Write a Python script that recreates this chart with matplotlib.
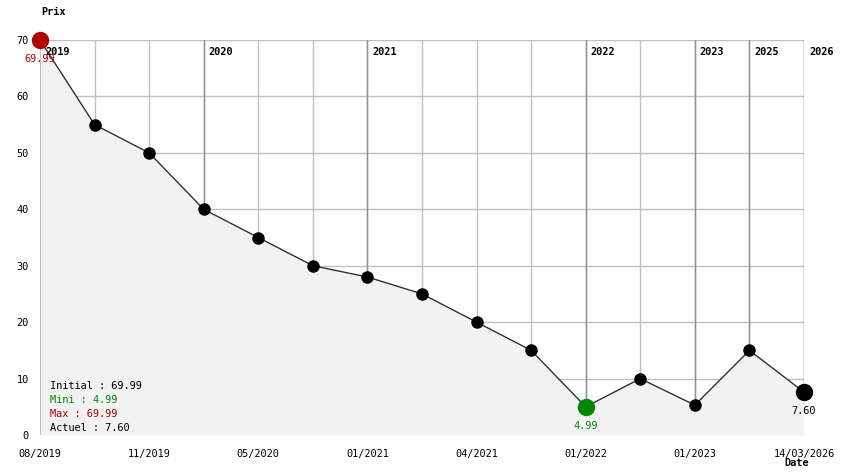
import matplotlib
matplotlib.use("Agg")
import matplotlib.pyplot as plt

prices = [69.99, 55, 50, 40, 35, 30, 28, 25, 20, 15, 4.99, 9.99, 5.3, 14.99, 7.60]
tick_pos = [0, 2, 4, 6, 8, 10, 12, 14]
tick_labels = ["08/2019", "11/2019", "05/2020", "01/2021", "04/2021",
               "01/2022", "01/2023", "14/03/2026"]
year_pos = [0, 3, 6, 10, 12, 13, 14]
year_labels = ["2019", "2020", "2021", "2022", "2023", "2025", "2026"]

font = "DejaVu Sans Mono"
fs = 7.4
red = "#b00000"
green = "#008800"

fig = plt.figure(figsize=(8.44, 4.74), dpi=100)
W, H = 844, 474
ax = fig.add_axes([40 / W, (H - 435) / H, 764 / W, 395 / H])
x = list(range(len(prices)))
ax.set_xlim(0, len(prices) - 1)
ax.set_ylim(0, 70)
for s in ax.spines.values():
    s.set_visible(False)

# grid
for yv in range(10, 71, 10):
    ax.axhline(yv, color="#c0c0c0", lw=1, zorder=1)
for xi in x:
    ax.axvline(xi, color="#c0c0c0", lw=1, zorder=1)
for xi, lab in zip(year_pos, year_labels):
    ax.axvline(xi, color="#909090", lw=1, zorder=1.5)
    ax.text(xi + 0.09, 67.8, lab, fontfamily=font, fontsize=fs, fontweight="bold",
            ha="left", va="center", zorder=6)

ax.fill_between(x, prices, 0, color="#f2f2f2", lw=0, zorder=2)
ax.plot(x, prices, color="#303030", lw=1, zorder=3)
ax.plot(x[1:-1], prices[1:-1], "o", color="black", ms=8, zorder=4, lw=0)

imin = prices.index(min(prices))
for i, c in [(imin, green), (0, red), (len(prices) - 1, "black")]:
    ax.plot(x[i], prices[i], "o", color=c, ms=11.5, zorder=5, clip_on=False)
    ax.annotate(f"{prices[i]:.2f}", (x[i], prices[i]), xytext=(0, -19),
                textcoords="offset pixels", ha="center", va="center",
                fontfamily=font, fontsize=fs, color=c, zorder=6)

ax.set_yticks(range(0, 71, 10))
ax.set_xticks(tick_pos)
ax.set_xticklabels(tick_labels)
ax.tick_params(length=0, labelsize=fs, pad=10)
ax.tick_params(axis="y", pad=8)
for t in ax.get_xticklabels() + ax.get_yticklabels():
    t.set_fontfamily(font)

legend = [(f"Initial : {prices[0]:.2f}", "black"),
          (f"Mini : {min(prices):.2f}", green),
          (f"Max : {max(prices):.2f}", red),
          (f"Actuel : {prices[-1]:.2f}", "black")]
for i, (txt, c) in enumerate(legend):
    fig.text(50 / W, 1 - (386 + 14 * i) / H, txt, fontfamily=font, fontsize=fs,
             color=c, ha="left", va="center")

fig.text(53 / W, 1 - 12 / H, "Prix", fontfamily=font, fontsize=fs, fontweight="bold",
         ha="center", va="center")
fig.text(797 / W, 1 - 463 / H, "Date", fontfamily=font, fontsize=fs, fontweight="bold",
         ha="center", va="center")

fig.savefig("out.png", dpi=100)
